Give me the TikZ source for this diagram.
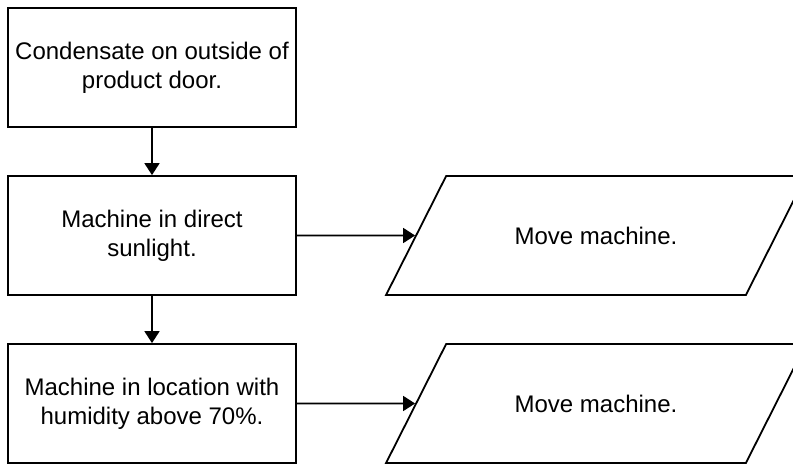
\documentclass[tikz,border=0pt]{standalone}
\usepackage{fontspec}
\setmainfont{Liberation Sans}
\usetikzlibrary{positioning,shapes.geometric,arrows.meta}

\begin{document}
\begin{tikzpicture}[node distance=47.2pt, >={Triangle[length=12pt,width=15pt]}, line width=1.8pt,
  every node/.style={draw, font=\fontsize{24}{29}\selectfont, align=center},
  procbox/.style={rectangle, minimum width=288pt, minimum height=119pt, inner xsep=0pt},
  movebox/.style={trapezium, trapezium left angle=63.2, trapezium right angle=116.8,
    trapezium stretches body=true, minimum width=420pt, inner ysep=50.75pt}]
  \useasboundingbox (0,0) rectangle (793pt,-464pt);
  % Nodes
  \node[procbox] (b1) at (152pt,-67.5pt) {Condensate on outside of\\product door.};
  \node[procbox, below=of b1] (b2) {Machine in direct\\sunlight.};
  \node[procbox, below=of b2] (b3) {Machine in location with\\humidity above 70\%.};
  \node[movebox, right=118.2pt of b2] (p1) {Move machine.};
  \node[movebox, right=118.2pt of b3] (p2) {Move machine.};

  % Flow
  \draw[->] (b1) -- (b2);
  \draw[->] (b2) -- (b3);
  \draw[->] (b2) -- (p1);
  \draw[->] (b3) -- (p2);
\end{tikzpicture}
\end{document}
